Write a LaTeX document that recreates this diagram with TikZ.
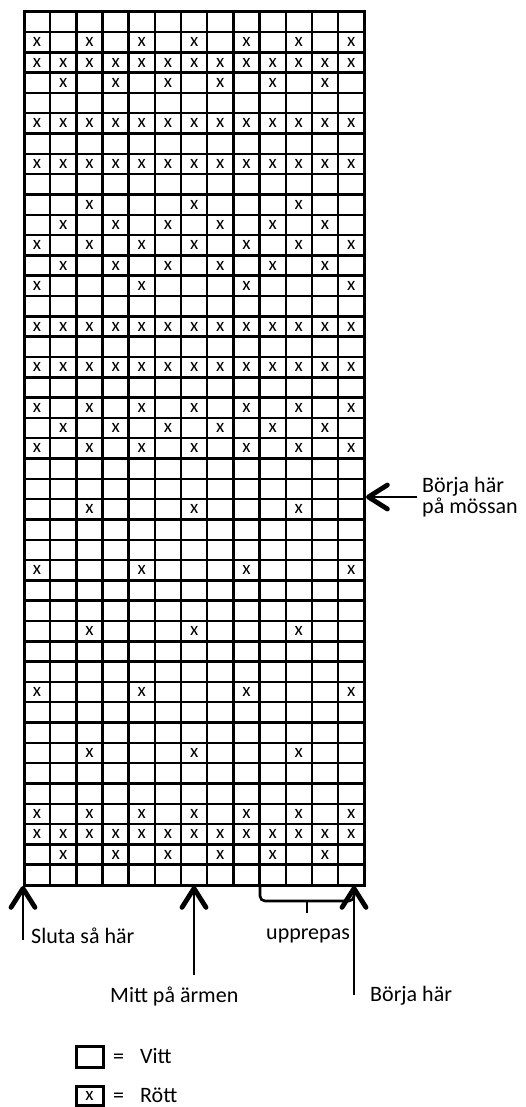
\documentclass[tikz,border=0pt]{standalone}
\usepackage{fontspec}
\setmainfont{Carlito}
\usetikzlibrary{arrows.meta}
\begin{document}
\begin{tikzpicture}[x=1pt,y=-1pt,
  gridline/.style={line width=2.5pt},
  outerline/.style={line width=3pt},
  xmark/.style={font=\fontsize{19}{19}\selectfont, inner sep=0pt},
  lbl/.style={font=\fontsize{22}{17}\selectfont, inner sep=0pt, anchor=west, align=left},
  arr/.style={line width=2.8pt, -{Straight Barb[length=19pt,width=24pt,line width=4.8pt,round]}},
  bracepath/.style={line width=2.6pt, rounded corners=5pt},
  legendbox/.style={line width=3pt},
]
\useasboundingbox (0,0) rectangle (525,1107);
\def\cw{26.177}
\def\rh{20.31}
% grid
\foreach \i in {1,...,12} \draw[gridline] ({24+\i*\cw},11.7) -- ({24+\i*\cw},885);
\foreach \j in {1,...,42} \draw[gridline] (24,{11.7+\j*\rh}) -- (364.3,{11.7+\j*\rh});
\draw[outerline] (24,11.7) rectangle (364.3,885);
% marks
\foreach \r/\cs in {2/{1,3,5,7,9,11,13}, 3/{1,...,13}, 4/{2,4,6,8,10,12}, 6/{1,...,13},
  8/{1,...,13}, 10/{3,7,11}, 11/{2,4,6,8,10,12}, 12/{1,3,5,7,9,11,13}, 13/{2,4,6,8,10,12},
  14/{1,5,9,13}, 16/{1,...,13}, 18/{1,...,13}, 20/{1,3,5,7,9,11,13}, 21/{2,4,6,8,10,12},
  22/{1,3,5,7,9,11,13}, 25/{3,7,11}, 28/{1,5,9,13}, 31/{3,7,11}, 34/{1,5,9,13}, 37/{3,7,11},
  40/{1,3,5,7,9,11,13}, 41/{1,...,13}, 42/{2,4,6,8,10,12}} {
  \foreach \c in \cs {
    \node[xmark] (x-\r-\c) at ({24+(\c-0.5)*\cw},{11.7+(\r-0.5)*\rh}) {x};
  }
}
% arrow coordinates
\coordinate (tipL) at (23,886);
\coordinate (tailL) at (23,940);
\coordinate (tipM) at (194,886);
\coordinate (tailM) at (194,975);
\coordinate (tipR) at (354,886);
\coordinate (tailR) at (354,995);
\coordinate (tipS) at (366,497);
\coordinate (tailS) at (417,497);
\draw[arr] (tailL) -- (tipL);
\draw[arr] (tailM) -- (tipM);
\draw[arr] (tailR) -- (tipR);
\draw[arr] (tailS) -- (tipS);
% brace
\coordinate (braceA) at (260,885);
\coordinate (braceB) at (354,893);
\coordinate (braceMid) at (307,901);
\coordinate (braceTick) at (307,913);
\draw[bracepath] (braceA) -- (260,901) -- (354,901) -- (braceB);
\draw[line width=2.6pt] (braceMid) -- (braceTick);
% labels
\node[lbl] (sluta) at (31,936) {Sluta så här};
\node[lbl] (upp) at (266,936) {upprepas};
\node[lbl] (mitt) at (110,996) {Mitt på ärmen};
\node[lbl] (borjaR) at (370,996) {Börja här};
\node[lbl] (borjaS) at (422,497) {Börja här\\på mössan};
% legend
\draw[legendbox] (76,1046) rectangle (103,1067);
\node[inner sep=0pt, minimum width=27pt, minimum height=21pt] (lgW) at (89.5,1056.5) {};
\node[lbl] (vitt) at (113,1056) {=\hspace{16pt}Vitt};
\draw[legendbox] (76,1086) rectangle (103,1105);
\node[xmark] (lgR) at (89.5,1096) {x};
\node[lbl] (rott) at (113,1095) {=\hspace{16pt}Rött};
\end{tikzpicture}
\end{document}
